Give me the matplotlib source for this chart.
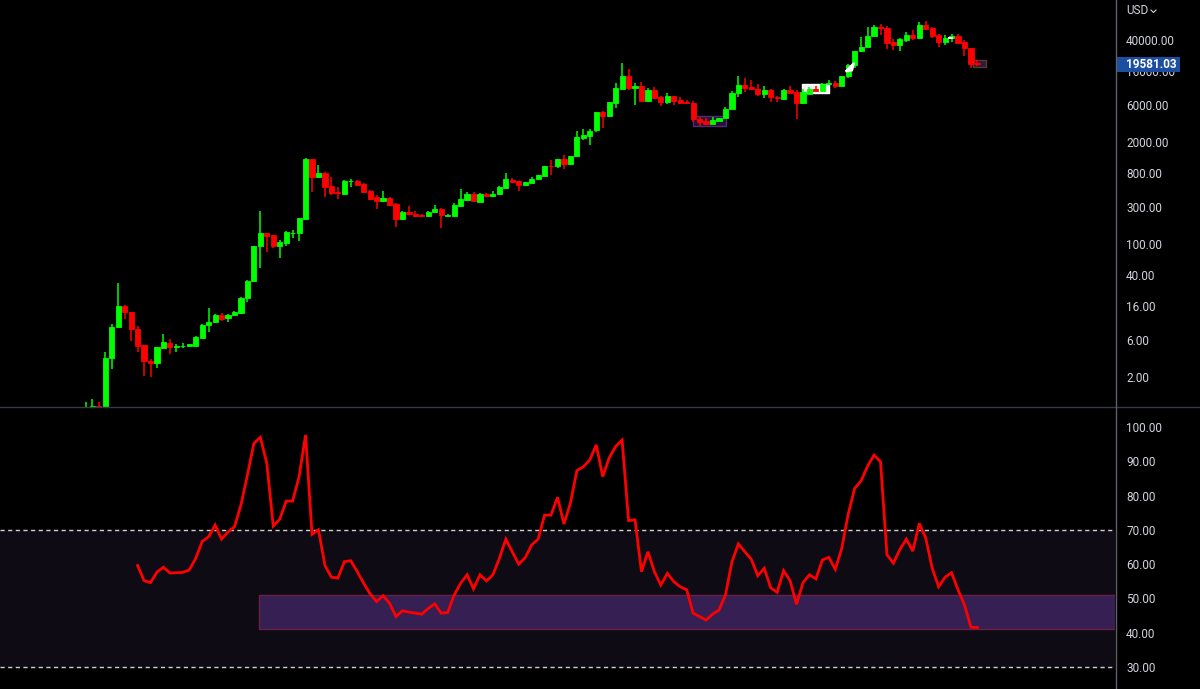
import numpy as np
import matplotlib.pyplot as plt
from matplotlib.patches import Rectangle, Polygon
from matplotlib.lines import Line2D
from matplotlib.ticker import NullLocator

plt.rcParams['font.family'] = ['Roboto', 'DejaVu Sans']

# monthly candles, Jan 2011 .. Jul 2022 (USD, log scale)
opens = [0.30, 0.52, 0.86, 0.78, 3.5, 8.7, 16.2, 13.4, 8.3, 5.1, 3.25, 3.0,
         4.7, 5.5, 4.86, 4.93, 4.95, 5.05, 6.4, 9.2, 10.0, 12.3, 11.3, 12.4,
         13.3, 20.4, 33.9, 93, 138, 130, 94, 104, 137, 139, 208, 1200,
         721, 811, 546, 465, 434, 630, 645, 585, 480, 395, 355, 390,
         325, 208, 254, 245, 235, 225, 254, 280, 230, 227, 308, 364,
         432, 345, 440, 405, 434, 518, 665, 634, 572, 598, 670, 736,
         1000, 980, 1210, 1060, 1325, 2280, 2400, 2844, 4786, 4250, 6250, 9480,
         14030, 9900, 10300, 6700, 9300, 7550, 6520, 7780, 6800, 6570, 6370, 3930,
         3740, 3390, 3700, 4010, 5270, 8390, 10700, 10100, 9480, 8300, 9150, 7550,
         7000, 9300, 8580, 6250, 8200, 9500, 8880, 10900, 11300, 10300, 13750, 19000,
         29000, 33000, 45000, 59100, 57700, 37300, 34100, 40000, 47000, 42800, 61400, 56100,
         46500, 38200, 42800, 45400, 37300, 31600, 20400]
highs = [0.97, 1.07, 0.97, 4.2, 9.5, 31.9, 16.6, 13.6, 8.9, 5.2, 3.4, 4.9,
         7.2, 6.2, 5.3, 5.4, 5.35, 6.7, 9.6, 15.4, 12.9, 13.0, 12.8, 13.8,
         20.8, 34.5, 95.7, 264, 140, 132, 111, 145, 150, 214, 1240, 1230,
         1018, 840, 721, 538, 660, 675, 660, 600, 495, 422, 480, 400,
         330, 265, 308, 262, 245, 265, 315, 285, 243, 330, 499, 465,
         460, 448, 442, 468, 550, 796, 700, 640, 625, 715, 760, 990,
         1190, 1210, 1350, 1345, 2772, 2900, 2900, 4790, 4980, 6470, 11300, 20180,
         17200, 11300, 11700, 9750, 9990, 7770, 8500, 7800, 7400, 6800, 6600, 4200,
         4050, 4200, 4100, 5600, 9000, 14000, 13000, 12300, 10900, 10400, 9500, 7750,
         9580, 10500, 9200, 9480, 10080, 10400, 11400, 12480, 12080, 14100, 19500, 29300,
         43500, 58300, 61700, 64800, 59600, 41300, 42300, 50500, 52900, 67000, 69000, 59100,
         47900, 45800, 48200, 47400, 40000, 31900, 22300]
lows = [0.29, 0.50, 0.75, 0.56, 2.55, 8.5, 11.0, 5.8, 4.16, 2.07, 2.0, 2.6,
        4.6, 3.93, 4.25, 4.7, 4.85, 4.95, 6.3, 7.6, 9.9, 10.4, 10.2, 12.2,
        12.9, 18.0, 33.0, 50, 79, 89, 65.7, 94, 118, 110, 200, 465,
        700, 401, 422, 378, 420, 538, 560, 445, 365, 279, 345, 305,
        163, 200, 235, 218, 222, 218, 250, 161, 225, 225, 300, 350,
        345, 340, 392, 400, 430, 510, 600, 480, 565, 595, 665, 730,
        750, 920, 905, 1060, 1320, 2100, 1830, 2700, 3020, 4110, 5500, 9400,
        9150, 5870, 6600, 6430, 7060, 5750, 6100, 5890, 6100, 6150, 3600, 3200,
        3390, 3380, 3680, 4000, 5250, 7450, 8600, 9400, 7700, 7300, 6500, 6430,
        6870, 8450, 3930, 6170, 8120, 8900, 8850, 10550, 9900, 10300, 13200, 17600,
        28100, 32300, 44900, 47000, 30600, 29400, 29300, 37300, 39600, 42500, 53300, 42000,
        32900, 34300, 37200, 37000, 25000, 17700, 18900]
closes = [0.52, 0.86, 0.78, 3.5, 8.7, 16.2, 13.4, 8.2, 5.0, 3.2, 3.05, 4.8,
          5.6, 4.85, 4.93, 5.0, 5.25, 6.6, 9.4, 10.0, 12.5, 11.2, 12.5, 13.6,
          20.6, 33.9, 94, 138, 126, 94, 105, 142, 140, 213, 1200, 721,
          796, 538, 451, 450, 637, 640, 570, 465, 380, 355, 390, 315,
          208, 254, 245, 228, 225, 258, 278, 232, 235, 314, 371, 430,
          350, 440, 405, 440, 533, 675, 615, 572, 620, 680, 750, 988,
          980, 1210, 1060, 1340, 2296, 2430, 2780, 4786, 4340, 6412, 9860, 14030,
          9860, 10300, 6700, 9300, 7370, 6520, 7780, 6700, 6370, 6250, 3930, 3560,
          3390, 3790, 4060, 5330, 8500, 10700, 9900, 9480, 8200, 9150, 7550, 7200,
          9300, 8480, 6250, 8580, 9500, 8880, 10900, 11300, 10500, 13950, 19000, 29200,
          33000, 45000, 59100, 57700, 37000, 34100, 41100, 47000, 42300, 61400, 55100, 45400,
          38200, 42800, 45400, 37000, 31600, 19700, 19581.03]

# oscillator (starts at Sep 2011)
rsi_start = 8
rsi = [59.6, 55.2, 54.6, 57.7, 59.1, 57.4, 57.5, 57.6, 58.3, 61.7, 66.6, 68.0,
       71.4, 67.3, 69.4, 70.9, 77.3, 86.0, 95.2, 97.0, 89.4, 71.1, 73.1, 78.4,
       78.4, 85.5, 97.7, 68.7, 70.0, 59.6, 56.2, 55.9, 60.7, 61.0, 57.8, 54.4,
       51.3, 49.1, 50.8, 48.6, 44.7, 46.4, 46.0, 45.7, 45.4, 47.1, 48.4, 45.7,
       45.9, 51.0, 54.4, 56.9, 52.8, 56.9, 55.1, 56.9, 61.7, 67.3, 63.6, 60.0,
       61.9, 65.6, 67.3, 74.3, 74.3, 79.5, 71.7, 77.8, 87.3, 88.4, 90.4, 94.8,
       85.5, 91.0, 94.3, 96.2, 72.7, 72.9, 57.8, 63.6, 57.8, 53.9, 57.3, 54.9,
       53.4, 52.5, 45.7, 44.7, 43.7, 45.4, 46.6, 51.0, 60.7, 65.9, 63.6, 61.4,
       56.6, 58.8, 53.1, 51.8, 58.1, 55.2, 48.3, 54.6, 56.9, 55.7, 61.2, 62.0,
       58.5, 64.6, 74.6, 82.1, 84.3, 88.6, 91.8, 89.9, 62.7, 60.3, 64.3, 67.3,
       63.8, 71.9, 67.6, 58.8, 53.4, 56.2, 57.5, 52.5, 48.1, 41.6, 41.5]

price_ticks = [2, 6, 16, 40, 100, 300, 800, 2000, 6000, 16000, 40000]
rsi_ticks = [30, 40, 50, 60, 70, 80, 90, 100]
last_price = 19581.03

GREEN = '#00ff00'
RED = '#ff0000'
TXT = '#d1d4dc'
GRID = '#363a45'

fig = plt.figure(figsize=(12, 6.89), dpi=100, facecolor='black')
ax = fig.add_axes([0, 1 - 407 / 689, 1115 / 1200, 407 / 689])
ax2 = fig.add_axes([0, 0, 1115 / 1200, 281 / 689])
for a in (ax, ax2):
    a.set_facecolor('black')
    for s in a.spines.values():
        s.set_visible(False)
    a.set_xlim(-13.3, 159.3)
    a.set_xticks([])
    a.yaxis.tick_right()
    a.tick_params(axis='y', length=0, pad=8, labelcolor=TXT, labelsize=8.5)

# --- price pane
o = np.array(opens); h = np.array(highs); l = np.array(lows); c = np.array(closes)
x = np.arange(len(o))
cols = np.where(c >= o, GREEN, RED)
ax.set_yscale('log')
ax.set_ylim(0.834, 129500)

# drawings under the candles
ax.add_patch(Rectangle((93.9, 3197), 5.2, 4296 - 3197, fc='#24123a', ec='#55286f', lw=1, zorder=1))
ax.add_patch(Rectangle((110.9, 8510), 4.1, 10990 - 8510, fc='#f2f2f2', ec='white', lw=1, zorder=1))
ax.add_patch(Rectangle((137.3, 18250), 2.0, 22230 - 18250, fc='#2a1a48', ec='#5a3a1e', lw=1, zorder=1))

ax.vlines(x, l, h, colors=cols, lw=1.1, zorder=2)
ax.bar(x, np.abs(c - o), bottom=np.minimum(o, c), width=0.8, color=cols,
       edgecolor=cols, lw=0.6, zorder=3)

ax.add_patch(Polygon([(117.6, 15900), (118.9, 20400), (118.6, 16400)], closed=True,
                     fc='white', ec='white', lw=1.5, zorder=4))
ax.add_patch(Rectangle((133.4, 41200), 0.8, 43650 - 41200, fc='white', ec='none', zorder=4))

ax.set_yticks(price_ticks)
ax.set_yticklabels([f'{v:.2f}' for v in price_ticks])
ax.yaxis.set_minor_locator(NullLocator())

# --- oscillator pane
ax2.set_ylim(23.58, 105.54)
ax2.axhspan(30, 70, color='#0e0b15', zorder=0)
ax2.add_patch(Rectangle((26.86, 41), 200, 10, fc='#361f53', ec='#6a2044', lw=1, zorder=1))
ax2.axhline(70, color='#cfcfcf', lw=1, dashes=(3, 2.5), zorder=2)
ax2.axhline(30, color='#cfcfcf', lw=1, dashes=(3, 2.5), zorder=2)
ax2.plot(np.arange(rsi_start, rsi_start + len(rsi)), rsi, color=RED, lw=2, zorder=3,
         solid_joinstyle='miter')
ax2.set_yticks(rsi_ticks)
ax2.set_yticklabels([f'{v:.2f}' for v in rsi_ticks])

# --- pane separators and price scale decorations
fig.add_artist(Line2D([0, 1], [1 - 407 / 689] * 2, color=GRID, lw=1))
fig.add_artist(Line2D([1115.5 / 1200] * 2, [0, 1], color='#5d606b', lw=1))
fig.text(1126 / 1200, 1 - 11 / 689, 'USD', color=TXT, fontsize=8.5, va='center', ha='left')
fig.add_artist(Line2D([1151 / 1200, 1153.5 / 1200, 1156 / 1200],
                      [1 - 10 / 689, 1 - 12.5 / 689, 1 - 10 / 689], color=TXT, lw=0.8))

y_lab = 40 + (np.log10(40000) - np.log10(last_price)) * 78.4
fig.add_artist(Rectangle((1116 / 1200, 1 - (y_lab + 7.5) / 689), 64 / 1200, 15 / 689,
                         fc='#1c4ea1', ec='none', transform=fig.transFigure))
fig.text(1126 / 1200, 1 - y_lab / 689, f'{last_price:.2f}', color='white', fontsize=8.5,
         fontweight='bold', va='center', ha='left')

fig.savefig('out.png', dpi=100, facecolor='black')
